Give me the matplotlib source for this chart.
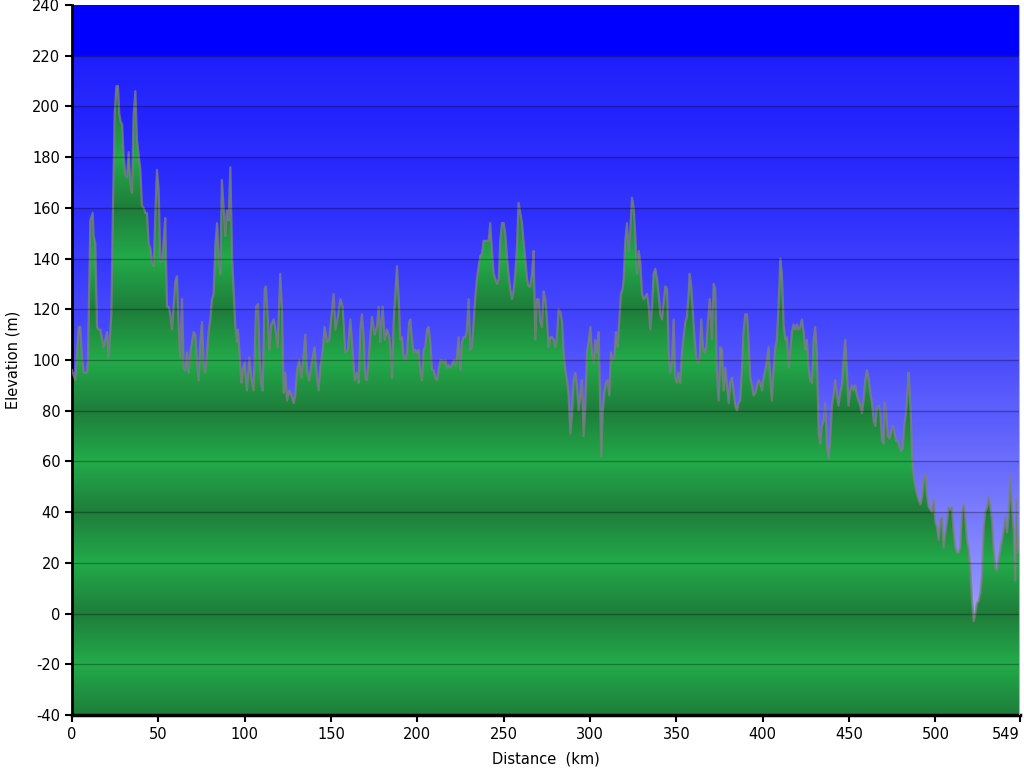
import matplotlib
matplotlib.use("Agg")
import matplotlib.pyplot as plt
import numpy as np

plt.rcParams['axes.unicode_minus'] = False

# elevation profile, split in six stretches
km_1 = [0, 1.9, 3.9, 4.8, 5.8, 6.8, 8.7, 9.3, 10.6, 12.0,
        12.5, 13.5, 14.5, 15.4, 16.4, 18.3, 20.3, 21.2, 22.8, 23.5,
        24.7, 25.7, 26.6, 27.4, 28.2, 29.0, 29.9, 30.9, 31.8, 32.8,
        33.8, 34.7, 35.7, 36.7, 37.6, 38.6, 39.6, 40.5, 41.5, 42.5,
        43.4, 44.4, 45.4, 46.3, 47.3, 48.3, 49.2, 50.2, 51.1, 52.1,
        53.1, 54.0, 55.0, 56.0, 56.9, 57.9, 58.9, 59.8, 60.8, 61.8,
        62.7, 63.7, 64.7, 65.6, 66.6, 67.5, 68.5, 69.5, 70.4, 71.4,
        72.4, 73.3, 74.3, 75.3, 76.2, 77.2, 78.2, 79.1, 80.1, 81.1,
        82.0, 83.0, 84.0, 84.9, 85.9, 86.8, 87.8, 88.8, 89.7, 90.7,
        91.7]
elev_1 = [96, 92, 113, 113, 101, 95, 95, 101, 155, 158,
          149, 146, 113, 112, 112, 105, 111, 101, 118, 151,
          197, 208, 208, 197, 194, 193, 181, 173, 172, 182,
          170, 166, 197, 206, 187, 181, 175, 161, 160, 158,
          158, 146, 144, 139, 137, 158, 175, 167, 139, 139,
          147, 156, 121, 121, 118, 112, 121, 131, 133, 112,
          101, 124, 97, 96, 103, 95, 103, 107, 111, 110,
          100, 92, 107, 115, 99, 95, 103, 111, 116, 124,
          126, 145, 154, 141, 134, 171, 160, 149, 159, 155,
          176]

km_2 = [92.7, 94.6, 95.6, 96.1, 96.9, 98.1, 98.8, 100.0, 101.3, 102.7,
        103.9, 105.2, 106.6, 107.7, 108.5, 109.5, 110.4, 111.6, 112.3, 113.3,
        114.3, 115.4, 116.8, 117.8, 119.1, 120.6, 121.6, 122.6, 123.5, 124.5,
        125.9, 127.0, 128.4, 129.3, 130.5, 131.6, 132.8, 134.0, 135.1, 136.1,
        137.4, 139.0, 140.5, 141.9, 142.8, 143.8, 145.2, 146.3, 147.7, 149.0,
        150.2, 151.5, 152.5, 154.0, 155.4, 156.7, 158.3, 159.8, 161.2, 162.5,
        163.7, 165.0, 166.0, 167.0, 167.9, 168.9, 169.9, 170.8, 172.2, 173.7,
        175.3, 176.6, 177.6, 178.5, 179.9, 181.1, 182.4, 183.8, 184.9]
elev_2 = [141, 113, 107, 112, 104, 91, 96, 99, 88, 101,
          93, 88, 121, 122, 104, 91, 88, 128, 129, 117,
          104, 114, 116, 112, 105, 134, 120, 87, 95, 84,
          88, 86, 83, 86, 97, 100, 93, 101, 110, 96,
          92, 100, 105, 93, 88, 97, 104, 113, 107, 108,
          117, 126, 112, 117, 124, 121, 103, 104, 116, 104,
          92, 95, 91, 112, 118, 109, 93, 92, 104, 117,
          110, 113, 121, 107, 121, 108, 112, 109, 100]

km_3 = [185.3, 186.3, 188.2, 189.2, 190.1, 191.1, 192.1, 193.0, 194.0, 195.3,
        195.9, 196.9, 197.8, 198.8, 199.8, 200.7, 201.7, 202.7, 203.6, 204.6,
        205.6, 206.5, 207.5, 208.5, 209.4, 210.4, 211.4, 212.3, 213.3, 214.3,
        215.2, 216.2, 217.1, 218.1, 219.1, 220.0, 221.0, 222.0, 222.9, 223.9,
        224.9, 225.8, 226.8, 227.8, 228.7, 229.7, 230.7, 231.6, 232.6, 233.6,
        234.5, 235.5, 236.4, 237.4, 238.4, 239.3, 240.3, 241.3, 242.2, 243.2,
        244.2, 245.1, 246.1, 247.1, 248.0, 249.0, 250.0, 250.9, 251.9, 252.9,
        253.8, 254.8, 255.7, 256.7, 257.7, 258.6, 259.6, 260.6, 261.5, 262.5,
        263.5, 264.4, 265.4, 266.4, 267.3, 268.3, 269.3, 270.2, 271.2, 272.2,
        273.1, 274.1, 275.1, 276.0, 277.0]
elev_3 = [93, 115, 137, 124, 108, 109, 101, 100, 103, 115,
          116, 108, 103, 104, 103, 104, 96, 92, 104, 105,
          112, 113, 107, 96, 96, 93, 92, 96, 100, 100,
          99, 100, 97, 98, 97, 98, 100, 98, 101, 109,
          96, 107, 109, 109, 112, 124, 104, 105, 115, 125,
          132, 137, 141, 142, 147, 147, 147, 147, 154, 143,
          134, 132, 130, 132, 147, 154, 154, 150, 141, 133,
          128, 124, 127, 134, 145, 162, 158, 154, 147, 140,
          132, 129, 129, 134, 143, 108, 124, 124, 115, 113,
          127, 124, 115, 105, 109]

km_4 = [278.0, 279.0, 279.9, 280.9, 281.8, 282.8, 283.8, 284.7, 285.7, 286.7,
        287.6, 288.6, 289.6, 290.5, 291.5, 292.4, 293.4, 294.4, 295.3, 296.3,
        297.3, 298.2, 299.2, 300.2, 301.1, 302.1, 303.1, 304.0, 305.0, 306.0,
        306.5, 307.3, 308.3, 309.2, 310.2, 311.2, 312.1, 313.1, 314.1, 315.0,
        316.0, 317.0, 317.9, 318.9, 319.5, 320.4, 321.4, 322.4, 323.3, 324.3,
        325.3, 326.2, 327.2, 328.2, 329.1, 330.1, 331.1, 332.0, 333.0, 334.0,
        334.9, 335.9, 336.8, 337.8, 338.8, 339.7, 340.7, 341.7, 342.6, 343.6,
        344.6, 345.5, 346.5, 347.5, 348.4, 349.4, 350.4, 351.3, 352.3, 353.2,
        354.2, 355.2, 356.1, 357.1, 357.7, 358.6, 359.6, 360.6, 361.5, 362.5,
        363.5, 364.4, 365.4, 366.4, 367.3, 368.3, 369.3]
elev_4 = [109, 108, 105, 109, 120, 119, 115, 103, 96, 92,
          86, 71, 79, 92, 95, 90, 80, 86, 92, 70,
          82, 103, 107, 113, 103, 99, 108, 103, 111, 79,
          62, 79, 87, 91, 92, 86, 103, 100, 101, 111,
          105, 116, 126, 128, 132, 147, 154, 143, 151, 164,
          160, 149, 134, 143, 139, 126, 124, 125, 126, 121,
          112, 121, 134, 136, 132, 126, 118, 116, 122, 129,
          128, 104, 95, 100, 116, 93, 91, 95, 91, 103,
          109, 115, 117, 126, 134, 129, 118, 108, 101, 99,
          100, 116, 105, 103, 105, 115, 124]

km_5 = [370.6, 371.6, 372.5, 373.5, 374.5, 375.4, 376.4, 377.4, 378.3, 379.3,
        380.3, 381.2, 382.2, 383.1, 384.1, 385.1, 386.0, 387.0, 388.0, 388.9,
        389.9, 390.9, 391.8, 392.8, 393.8, 394.7, 395.7, 396.7, 397.6, 398.6,
        399.6, 400.5, 401.5, 402.4, 403.4, 404.4, 405.3, 406.3, 407.3, 408.2,
        409.2, 410.2, 411.1, 412.1, 413.1, 414.0, 415.0, 416.0, 416.9, 417.9,
        418.9, 419.8, 420.8, 421.7, 422.7, 423.7, 424.6, 425.6, 426.6, 427.5,
        428.5, 429.5, 430.4, 431.4, 432.4, 433.3, 434.3, 435.3, 436.2, 437.2,
        438.2, 439.1, 440.1, 441.0, 442.0, 443.0, 443.9, 444.9, 445.9, 446.8,
        447.8, 448.8, 449.7, 450.7, 451.7, 452.6, 453.6, 454.6, 455.5, 456.5,
        457.5, 458.4, 459.4, 460.3, 461.3, 462.3]
elev_5 = [108, 130, 128, 95, 84, 105, 104, 88, 97, 90,
          83, 91, 93, 88, 82, 80, 83, 84, 97, 111,
          118, 118, 108, 93, 90, 86, 87, 90, 92, 91,
          88, 93, 96, 100, 105, 93, 84, 97, 105, 108,
          121, 140, 134, 114, 108, 109, 97, 104, 111, 114,
          112, 114, 112, 113, 116, 111, 104, 108, 97, 92,
          91, 108, 113, 103, 71, 67, 74, 76, 83, 66,
          61, 68, 82, 86, 92, 86, 82, 87, 90, 100,
          108, 95, 82, 88, 90, 88, 90, 86, 84, 82,
          79, 84, 92, 96, 93, 87]

km_6 = [463.3, 464.3, 465.2, 466.2, 467.2, 468.1, 469.1, 470.1, 470.6, 471.4,
        472.4, 473.3, 474.3, 475.3, 476.2, 477.2, 478.2, 479.1, 480.1, 481.1,
        482.0, 483.0, 484.0, 484.5, 485.1, 485.9, 486.5, 487.4, 488.4, 489.4,
        490.3, 491.3, 492.3, 493.2, 494.2, 495.1, 496.1, 497.1, 498.0, 499.0,
        500.0, 500.9, 501.9, 502.9, 503.8, 504.8, 505.8, 506.7, 507.7, 508.7,
        509.6, 510.6, 511.6, 512.5, 513.5, 514.4, 515.4, 516.4, 517.3, 518.3,
        519.3, 520.2, 521.2, 522.2, 523.1, 524.1, 525.1, 526.0, 527.0, 528.0,
        528.9, 529.9, 530.9, 531.8, 532.8, 533.7, 534.7, 535.7, 536.6, 537.6,
        538.6, 539.5, 540.5, 541.5, 542.4, 543.4, 544.4, 545.3, 546.3, 546.9,
        547.8, 549.0]
elev_6 = [83, 76, 74, 81, 82, 79, 68, 67, 83, 80,
          70, 69, 71, 74, 72, 68, 68, 66, 64, 65,
          74, 79, 89, 95, 89, 76, 62, 54, 50, 47,
          45, 43, 46, 53, 55, 47, 42, 41, 40, 45,
          36, 34, 29, 37, 38, 26, 32, 36, 42, 41,
          42, 32, 26, 24, 24, 26, 40, 43, 38, 29,
          25, 18, 5, -3, 0, 4, 5, 8, 15, 34,
          40, 42, 46, 42, 37, 26, 18, 17, 21, 25,
          29, 33, 38, 32, 38, 55, 41, 33, 13, 45,
          24, 30]

xticks = [0, 50, 100, 150, 200, 250, 300, 350, 400, 450, 500, 549]
yticks = list(range(-40, 241, 20))

dist = np.array(km_1 + km_2 + km_3 + km_4 + km_5 + km_6)
elev = np.array(elev_1 + elev_2 + elev_3 + elev_4 + elev_5 + elev_6)

x0, x1 = 0, 549
y0, y1 = -40, 240

fig = plt.figure(figsize=(10.24, 7.68), dpi=100)
ax = fig.add_axes([72 / 1024, 53 / 768, 948 / 1024, 710 / 768])

# background: blue, lighter toward the bottom
v = np.linspace(y1, y0, 700)
t = np.clip((220 - v) / 260, 0, 1)
rg = (30 + 155 * t ** 1.6) / 255
band = ((220 - v) % 20) / 20
rg = rg + 0.03 * band
blue = np.stack([rg, rg * 1.02, np.full_like(rg, 0.99)], axis=-1)
blue[v > 220] = [0, 0, 1]
blue = np.clip(blue, 0, 1)
ax.imshow(blue[:, None, :], extent=[x0, x1, y0, y1], aspect='auto',
          origin='upper', zorder=0, interpolation='bilinear')

# green fill with banded shading (dark at multiples of 40)
ph = np.abs(((v % 40) / 40) * 2 - 1)  # 1 at multiples of 40, 0 in between
dark = np.array([0.12, 0.49, 0.23])
light = np.array([0.135, 0.67, 0.29])
green = light[None, :] * (1 - ph[:, None]) + dark[None, :] * ph[:, None]
poly = ax.fill_between(dist, elev, y0, facecolor='none', edgecolor='none', zorder=1)
img = ax.imshow(green[:, None, :], extent=[x0, x1, y0, y1], aspect='auto',
                origin='upper', zorder=2, interpolation='bilinear')
img.set_clip_path(poly.get_paths()[0], transform=ax.transData)

ax.plot(dist, elev, color=(0.5, 0.5, 0.5), alpha=0.75, lw=1.6, zorder=3)

for yy in yticks[1:-1]:
    ax.axhline(yy, color='black', alpha=0.3, lw=1, zorder=4)

ax.axvline(549, color=(0.45, 0.85, 0.45), lw=1.5, zorder=5)

ax.set_xlim(x0, x1)
ax.set_ylim(y0, y1)
ax.set_xticks(xticks)
ax.set_yticks(yticks)
ax.tick_params(direction='out', length=5, width=1.5, labelsize=10.5, colors='black')
ax.get_xticklabels()[-1].set_horizontalalignment('right')
for s in ['top', 'right']:
    ax.spines[s].set_visible(False)
ax.spines['left'].set_linewidth(2)
ax.spines['bottom'].set_linewidth(2.5)
ax.set_xlabel('Distance  (km)', fontsize=10.5, labelpad=7)
ax.set_ylabel('Elevation (m)', fontsize=10.5, labelpad=8)

fig.savefig('out.png', dpi=100)
